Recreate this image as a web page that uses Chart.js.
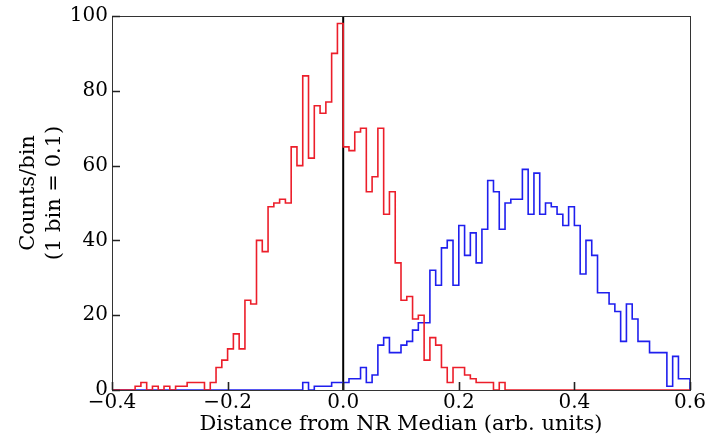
<!DOCTYPE html>
<html>
<head>
<meta charset="utf-8">
<script src="https://cdn.jsdelivr.net/npm/chart.js@4"></script>
<style>
  html, body { margin: 0; padding: 0; background: #fff; }
  #wrap { width: 717px; height: 437px; }
</style>
</head>
<body>
<div id="wrap"><canvas id="c" width="717" height="437"></canvas></div>
<script>
"use strict";
// histogram bins: 100 bins of width 0.01 starting at -0.4
const binStart = -0.4;
const binWidth = 0.01;
const redCounts = [
  0, 0, 0, 0, 0, 1, 2, 0, 1, 0,
  1, 0, 1, 1, 2, 2, 2, 0, 2, 6,
  8, 11, 15, 11, 24, 23, 40, 37, 49, 50,
  51, 50, 65, 60, 84, 62, 76, 74, 77, 90,
  98, 65, 64, 69, 70, 53, 57, 70, 47, 53,
  34, 24, 25, 19, 20, 8, 14, 12, 6, 2,
  6, 6, 4, 3, 2, 2, 2, 0, 2, 0,
  0, 0, 0, 0, 0, 0, 0, 0, 0, 0,
  0, 0, 0, 0, 0, 0, 0, 0, 0, 0,
  0, 0, 0, 0, 0, 0, 0, 0, 0, 0
];
const blueCounts = [
  0, 0, 0, 0, 0, 0, 0, 0, 0, 0,
  0, 0, 0, 0, 0, 0, 0, 0, 0, 0,
  0, 0, 0, 0, 0, 0, 0, 0, 0, 0,
  0, 0, 0, 0, 2, 0, 1, 1, 1, 2,
  2, 2, 3, 3, 6, 2, 4, 12, 14, 10,
  10, 12, 13, 16, 18, 18, 32, 28, 38, 40,
  28, 44, 36, 42, 34, 43, 56, 53, 43, 50,
  51, 51, 59, 47, 58, 47, 50, 49, 47, 44,
  49, 44, 31, 40, 36, 26, 26, 23, 21, 13,
  23, 19, 13, 13, 10, 10, 10, 1, 9, 3
];
const xTicks = [-0.4, -0.2, 0.0, 0.2, 0.4, 0.6];
const yTicks = [0, 20, 40, 60, 80, 100];
const xLabel = "Distance from NR Median (arb. units)";
const yLabel = ["Counts/bin", "(1 bin = 0.1)"];

function stepPoints(counts) {
  const pts = [{x: binStart, y: 0}];
  counts.forEach((c, i) => pts.push({x: binStart + i * binWidth, y: c}));
  const end = binStart + counts.length * binWidth;
  pts.push({x: end, y: counts[counts.length - 1]});
  pts.push({x: end, y: 0});
  return pts;
}

const fmt = v => (Math.abs(v) < 1e-9 ? "0.0" : v.toFixed(1)).replace("-", "\u2212");
const fam = "'DejaVu Serif', serif";

// frame, inward ticks and the two-line y label, matplotlib style
const frameTicks = {
  id: "frameTicks",
  afterDatasetsDraw(chart) {
    const {ctx, chartArea: a, scales} = chart;
    ctx.save();
    ctx.strokeStyle = "#333";
    ctx.lineWidth = 1;
    ctx.strokeRect(a.left + 0.5, a.top + 0.5, a.right - a.left, a.bottom - a.top);
    ctx.lineWidth = 1.6;
    ctx.strokeStyle = "#222";
    ctx.beginPath();
    xTicks.forEach(v => {
      const px = Math.round(scales.x.getPixelForValue(v)) + 0.5;
      ctx.moveTo(px, a.bottom);
      ctx.lineTo(px, a.bottom - 8);
    });
    yTicks.forEach(v => {
      const py = Math.round(scales.y.getPixelForValue(v)) + 0.5;
      ctx.moveTo(a.left, py);
      ctx.lineTo(a.left + 8, py);
    });
    ctx.stroke();

    ctx.fillStyle = "#000";
    ctx.font = "21px " + fam;
    ctx.textAlign = "center";
    ctx.textBaseline = "middle";
    ctx.translate(0, 193);
    ctx.rotate(-Math.PI / 2);
    ctx.fillText(yLabel[0], 0, 29);
    ctx.fillText(yLabel[1], 0, 55);
    ctx.restore();
  }
};

new Chart(document.getElementById("c").getContext("2d"), {
  type: "line",
  data: {
    datasets: [
      {
        data: stepPoints(redCounts),
        borderColor: "#ec1e2a",
        borderWidth: 1.6,
        stepped: "after",
        pointRadius: 0,
        fill: false
      },
      {
        data: stepPoints(blueCounts),
        borderColor: "#1f1fee",
        borderWidth: 1.6,
        stepped: "after",
        pointRadius: 0,
        fill: false
      },
      {
        data: [{x: 0, y: 0}, {x: 0, y: 100}],
        borderColor: "#000",
        borderWidth: 2,
        pointRadius: 0,
        fill: false
      }
    ]
  },
  options: {
    responsive: false,
    animation: false,
    layout: {padding: {top: 15, right: 27, left: 0, bottom: 0}},
    plugins: {legend: {display: false}, tooltip: {enabled: false}},
    scales: {
      x: {
        type: "linear",
        min: -0.4,
        max: 0.6,
        afterBuildTicks: s => { s.ticks = xTicks.map(v => ({value: v})); },
        afterFit: s => { s.height = 47; },
        grid: {display: false, drawTicks: false},
        border: {display: false},
        ticks: {color: "#000", font: {family: fam, size: 20}, padding: 1, maxRotation: 0, callback: v => fmt(v)},
        title: {display: true, text: xLabel, color: "#000", font: {family: fam, size: 21}, padding: {top: 0, bottom: 0}}
      },
      y: {
        type: "linear",
        min: 0,
        max: 100,
        afterBuildTicks: s => { s.ticks = yTicks.map(v => ({value: v})); },
        afterFit: s => { s.width = 112; },
        grid: {display: false, drawTicks: false},
        border: {display: false},
        ticks: {color: "#000", font: {family: fam, size: 20}, padding: 4}
      }
    }
  },
  plugins: [frameTicks]
});
</script>
</body>
</html>
